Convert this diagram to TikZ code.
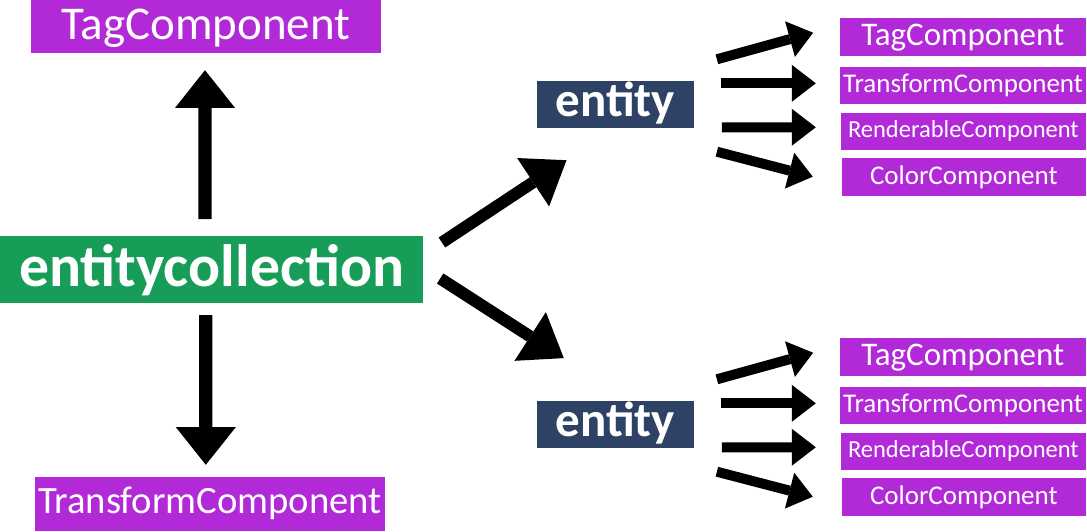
\documentclass[tikz,border=0pt]{standalone}
\usepackage{fontspec}
\setmainfont{Carlito}
\usetikzlibrary{arrows.meta}
\definecolor{purp}{HTML}{B22AD7}
\definecolor{grn}{HTML}{189D58}
\definecolor{navy}{HTML}{2E4266}
\newcommand{\fsz}[1]{\fontsize{#1}{#1}\selectfont}
\begin{document}
\begin{tikzpicture}[x=1pt,y=-1pt,
  comp/.style={fill=purp,text=white,inner sep=0pt,anchor=center},
  entbox/.style={fill=navy,text=white,inner sep=0pt,anchor=center,minimum width=157.3pt,minimum height=47pt,text height=36pt,text depth=11pt,font=\fsz{49}\bfseries},
  ecbox/.style={fill=grn,text=white,inner sep=0pt,anchor=center,font=\fsz{59.7}\bfseries},
  bigarrow/.style={line width=13.3pt,-{Triangle[width=60pt,length=37.7pt,line width=0pt]}},
  diagarrow/.style={line width=12pt,-{Triangle[width=58pt,length=40pt,line width=0pt]}},
  smallarrow/.style={line width=10pt,-{Triangle[width=37pt,length=24pt,line width=0pt]}}]
\useasboundingbox (0,0) rectangle (1087,531);

\node[comp,minimum width=349.7pt,minimum height=53.3pt,text height=36.15pt,text depth=10.85pt,font=\fsz{47}] (tagL) at (205.9,26.65) {TagComponent};
\node[ecbox,minimum width=423.3pt,minimum height=67.3pt,text height=46.9pt,text depth=12.8pt] (ec) at (211.65,269.65) {entitycollection};
\node[comp,minimum width=350pt,minimum height=54.3pt,text height=28.8pt,text depth=9.9pt,font=\fsz{38.7}] (trL) at (210,503.85) {TransformComponent};

\draw[bigarrow,shorten <=16.7pt,shorten >=16.7pt] ([xshift=-6.6pt]ec.north) -- ([xshift=-0.9pt]tagL.south);
\draw[bigarrow,shorten <=11.7pt,shorten >=11.7pt] ([xshift=-5.8pt]ec.south) -- ([xshift=-4.2pt]trL.north);

\foreach \g/\dy in {1/0,2/320}{
  \node[entbox] (ent\g) at (615.35,104.2+\dy) {entity};
  \node[comp,minimum width=246.5pt,minimum height=37.4pt,text height=24.5pt,text depth=8.5pt,font=\fsz{33}] (tag\g) at (962.75,37+\dy) {TagComponent};
  \node[comp,minimum width=246pt,minimum height=37.6pt,text height=20.7pt,text depth=6.3pt,font=\fsz{27}] (tr\g) at (963,85.5+\dy) {TransformComponent};
  \node[comp,minimum width=245.3pt,minimum height=36.7pt,text height=18.25pt,text depth=6.25pt,font=\fsz{24.5}] (rc\g) at (963.35,131.65+\dy) {RenderableComponent};
  \node[comp,minimum width=244.3pt,minimum height=37.4pt,text height=20.5pt,text depth=6.5pt,font=\fsz{27}] (cc\g) at (963.85,177+\dy) {ColorComponent};
  \draw[smallarrow] ([shift={(22.7,-44.9)}]ent\g.east) -- ([shift={(-26.2,-4.3)}]tag\g.west);
  \draw[smallarrow] ([shift={(26.7,-20.9)}]ent\g.east) -- ([shift={(-24,-2.2)}]tr\g.west);
  \draw[smallarrow] ([shift={(27.7,23.1)}]ent\g.east) -- ([shift={(-24.7,-4.4)}]rc\g.west);
  \draw[smallarrow] ([shift={(22.7,47.5)}]ent\g.east) -- ([shift={(-28.7,-0.3)}]cc\g.west);
}

\draw[diagarrow] ([shift={(18.4,6.7)}]ec.north east) -- ([shift={(30,32.3)}]ent1.south west);
\draw[diagarrow] ([shift={(16.7,-25)}]ec.south east) -- ([shift={(27.3,-42.4)}]ent2.north west);
\end{tikzpicture}
\end{document}
